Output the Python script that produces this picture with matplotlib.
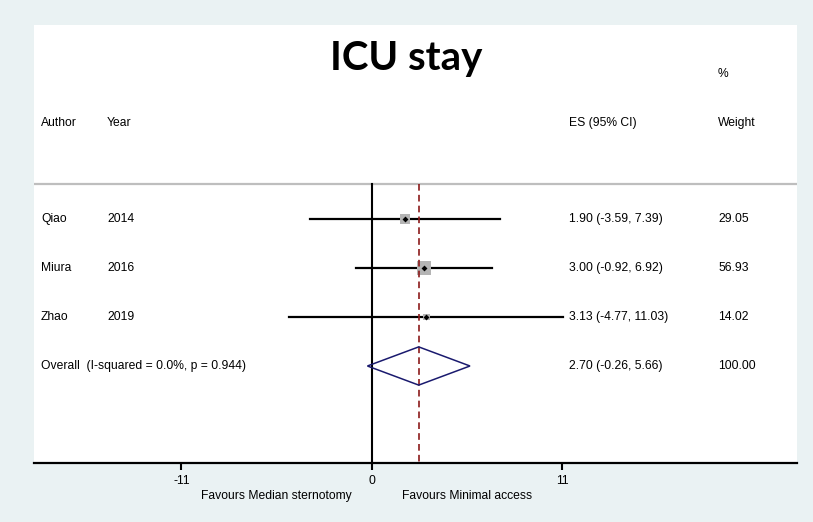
import numpy as np
import matplotlib
matplotlib.use("Agg")
import matplotlib.pyplot as plt
from matplotlib.patches import Polygon

# study data
authors = ["Qiao", "Miura", "Zhao"]
years = ["2014", "2016", "2019"]
es = [1.90, 3.00, 3.13]
lo = [-3.59, -0.92, -4.77]
hi = [7.39, 6.92, 11.03]
weights = [29.05, 56.93, 14.02]

# pooled estimate
pooled_es = 2.70
pooled_lo = -0.26
pooled_hi = 5.66
overall_label = "Overall  (I-squared = 0.0%, p = 0.944)"

xticks = [-11, 0, 11]
left_label = "Favours Median sternotomy"
right_label = "Favours Minimal access"

BG = "#EAF2F3"
FS = 8.7

plt.rcParams["font.family"] = ["Liberation Sans", "DejaVu Sans"]

fig = plt.figure(figsize=(8.13, 5.22), dpi=100)
fig.patch.set_facecolor(BG)
ax = fig.add_axes([34 / 813, (522 - 463) / 522, 763 / 813, 438 / 522])
ax.set_facecolor("white")

ax.set_xlim(-19.51, 24.54)
ax.set_ylim(5.98, -2.96)

rows = np.arange(1, len(authors) + 1)
overall_row = len(authors) + 1

# header separator and reference lines
ax.axhline(0.286, color="#BEBEBE", lw=1.6, zorder=1)
ax.plot([0, 0], [0.286, 5.98], color="black", lw=1.5, zorder=2)
ax.plot([pooled_es, pooled_es], [0.286, 5.98], color="#8B1A1A", lw=1.2,
        ls=(0, (4, 2.5)), zorder=4)

# confidence intervals, weight boxes, point estimates
for r, e, l, h, w in zip(rows, es, lo, hi, weights):
    ax.plot([l, h], [r, r], color="black", lw=1.6, zorder=3)
ax.scatter(es, rows, s=[1.75 * w for w in weights], marker="s",
           color="#B4B4B4", lw=0, zorder=3.5)
ax.scatter(es, rows, s=9, marker="D", color="black", lw=0, zorder=5)

# pooled diamond
dh = 0.39
diamond = Polygon([[pooled_lo, overall_row], [pooled_es, overall_row - dh],
                   [pooled_hi, overall_row], [pooled_es, overall_row + dh]],
                  closed=True, fill=False, edgecolor="#1A1A6E", lw=1.1, zorder=6)
ax.add_patch(diamond)

# text columns
tr = ax.get_yaxis_transform()
col_author, col_year, col_es, col_w = 0.0092, 0.0957, 0.701, 0.8965
ax.text(col_author, -0.96, "Author", transform=tr, fontsize=FS, va="center")
ax.text(col_year, -0.96, "Year", transform=tr, fontsize=FS, va="center")
ax.text(col_es, -0.96, "ES (95% CI)", transform=tr, fontsize=FS, va="center")
ax.text(col_w, -0.96, "Weight", transform=tr, fontsize=FS, va="center")
ax.text(col_w, -1.96, "%", transform=tr, fontsize=FS, va="center")

for r, a, y, e, l, h, w in zip(rows, authors, years, es, lo, hi, weights):
    ax.text(col_author, r, a, transform=tr, fontsize=FS, va="center")
    ax.text(col_year, r, y, transform=tr, fontsize=FS, va="center")
    ax.text(col_es, r, f"{e:.2f} ({l:.2f}, {h:.2f})", transform=tr,
            fontsize=FS, va="center")
    ax.text(col_w, r, f"{w:.2f}", transform=tr, fontsize=FS, va="center")

ax.text(col_author, overall_row, overall_label, transform=tr, fontsize=FS, va="center")
ax.text(col_es, overall_row, f"{pooled_es:.2f} ({pooled_lo:.2f}, {pooled_hi:.2f})",
        transform=tr, fontsize=FS, va="center")
ax.text(col_w, overall_row, f"{sum(weights):.2f}", transform=tr, fontsize=FS, va="center")

# axis
for s in ["top", "left", "right"]:
    ax.spines[s].set_visible(False)
ax.spines["bottom"].set_linewidth(1.6)
ax.set_yticks([])
ax.set_xticks(xticks)
ax.set_xticklabels([str(t) for t in xticks], fontsize=FS)
ax.tick_params(axis="x", length=5, width=1.5, pad=4)

xtr = ax.get_xaxis_transform()
ax.text(-5.5, -0.075, left_label, transform=xtr, fontsize=FS, ha="center", va="center")
ax.text(5.5, -0.075, right_label, transform=xtr, fontsize=FS, ha="center", va="center")

fig.text(0.5, 1 - 70 / 522, "ICU stay", fontsize=29, fontweight="bold",
         family=["Lato", "DejaVu Sans"], ha="center", va="baseline")

fig.savefig("out.png", dpi=100, facecolor=BG)
